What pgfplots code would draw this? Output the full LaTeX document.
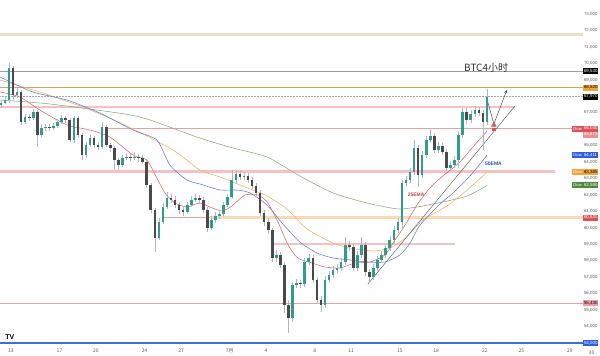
\documentclass[border=0pt]{standalone}
\usepackage{pgfplots}
\usepackage{pgfplotstable}
\pgfplotsset{compat=1.18}
\usepackage{fontspec}
\setmainfont{Liberation Sans}
\newfontfamily\cjk{Noto Sans CJK SC}
\definecolor{upc}{HTML}{2E9E8A}
\definecolor{dnc}{HTML}{4A4A4A}
\definecolor{wickc}{HTML}{B4B8BC}
\definecolor{emared}{HTML}{D97070}
\definecolor{emablue}{HTML}{6F80D8}
\definecolor{emaorange}{HTML}{F2B46C}
\definecolor{emaolive}{HTML}{93AC86}
\definecolor{tanband}{HTML}{EBDDC2}
\definecolor{pinkband}{HTML}{F4C2C2}
\definecolor{peachband}{HTML}{F7D9B5}
\definecolor{redline}{HTML}{EBA0A0}
\definecolor{orangeline}{HTML}{D9A35E}
\definecolor{blueline}{HTML}{3D6FD8}
\definecolor{lblred}{HTML}{E05252}
\definecolor{lblpink}{HTML}{EE8E8E}
\definecolor{lblblue}{HTML}{2F5FE0}
\definecolor{lblorange}{HTML}{F2A23C}
\definecolor{lblgreen}{HTML}{4C8A3C}
\definecolor{axtext}{HTML}{5A5A5A}

\pgfplotstableread{
x o h l c
0 67467 67771 67285 67589
1 67589 67953 67528 67771
2 67771 70021 67589 69717
3 69717 69838 67771 68075
4 68075 68501 67893 68257
5 68257 68379 66251 66433
6 66433 66920 66312 66737
7 66737 66920 66494 66677
8 66677 67224 66555 67041
9 67041 67163 64913 65643
10 65643 66312 65521 66069
11 66069 66312 65886 66129
12 66129 66312 65886 66069
13 66069 66373 65947 66190
14 66190 66616 66069 66433
15 66433 66859 66312 66677
16 66677 66798 66373 66555
17 66555 66677 65217 65339
18 65339 66798 65157 66677
19 66677 66798 65461 65643
20 65643 65765 64123 64427
21 64427 65217 64245 65035
22 65035 65643 64913 65461
23 65461 65583 64853 65035
24 65035 65217 64731 64913
25 64913 66433 64792 66129
26 66129 66251 64913 65035
27 65035 65157 64609 64853
28 64853 64974 63515 64123
29 64123 64245 63515 63819
30 63819 64427 63697 64245
31 64245 64549 64123 64305
32 64305 64488 64063 64245
33 64245 64609 64123 64305
34 64305 64488 64001 64245
35 64245 64427 63880 64001
36 64001 64123 62421 62603
37 62603 62725 60901 61083
38 61083 61205 58529 59381
39 59381 60597 59259 60353
40 60353 61509 60232 61265
41 61265 62178 61144 61813
42 61813 62056 61509 61691
43 61691 61935 61205 61387
44 61387 61569 60841 61083
45 61083 61326 60719 60961
46 60961 61569 60841 61387
47 61387 61935 61265 61691
48 61691 62056 61569 61813
49 61813 61995 61448 61691
50 61691 61873 60901 61083
51 61083 61265 59745 59987
52 59987 60719 59867 60475
53 60475 60961 60293 60719
54 60719 61083 60536 60841
55 60841 61569 60719 61387
56 61387 62056 61265 61873
57 61873 63515 61752 62907
58 62907 63515 62725 63272
59 63272 63454 62907 63089
60 63089 63393 62907 63150
61 63150 63333 62725 62907
62 62907 63089 62360 62542
63 62542 62725 61935 62117
64 62117 62299 60719 60901
65 60901 61083 60110 60353
66 60353 60597 59624 59867
67 59867 59987 57921 58165
68 58165 58651 57921 58347
69 58347 58529 57557 57739
70 57739 57921 54821 55307
71 55307 55611 53605 54517
72 54517 56705 54273 56523
73 56523 56888 56341 56645
74 56645 56827 56341 56584
75 56584 58165 56402 57921
76 57921 58408 57739 58165
77 58165 58347 56645 56827
78 56827 57009 55368 55611
79 55611 55854 54881 55307
80 55307 57070 55125 56827
81 56827 57375 56645 57131
82 57131 57678 56949 57435
83 57435 57800 57253 57557
84 57557 58165 57375 57921
85 57921 59441 57739 58955
86 58955 59198 58590 58833
87 58833 59015 57375 57557
88 57557 58590 57375 58347
89 58347 59441 58165 58955
90 58955 59137 57070 57313
91 57313 57496 56645 57009
92 57009 57800 56827 57557
93 57557 58286 57375 58043
94 58043 58590 57861 58347
95 58347 59015 58165 58773
96 58773 59502 58590 59259
97 59259 60110 59077 59867
98 59867 60597 59685 60353
99 60353 62907 59987 62725
100 62725 63150 62481 62907
101 62907 63637 62725 63393
102 63393 65339 63211 64853
103 64853 65035 62481 63211
104 63211 64670 63029 64427
105 64427 65583 64245 65339
106 65339 66069 65157 65583
107 65583 65765 64549 64731
108 64731 65217 64549 64974
109 64974 65157 64427 64609
110 64609 64792 63454 63637
111 63637 64063 63454 63819
112 63819 64366 63637 64123
113 64123 65886 63637 65643
114 65643 67285 65461 67041
115 67041 67285 66312 66555
116 66555 67163 66373 66920
117 66920 67407 66737 67163
118 67163 67345 66798 66981
119 66981 67163 64731 66433
120 66433 68440 66251 67953
}\candles

\pgfplotstableread{
x p
-0.2 68257
4.7 67953
9.6 67163
16.3 66251
22.0 65947
26.9 65521
32.6 64427
36.0 64123
38.5 63029
40.5 62117
43.0 61509
45.9 61265
49.1 61509
51.6 61265
54.6 61022
57.0 61326
60.2 61995
63.5 61995
65.9 61509
68.4 60353
70.9 58955
73.3 58165
76.8 57861
80.0 57618
83.7 57557
87.4 57861
91.1 57921
94.8 58347
97.3 59259
99.8 60171
102.7 61387
105.9 62421
109.1 63150
113.3 64001
116.5 64913
120.0 65875
}\emaRed

\pgfplotstableread{
x p
-0.2 69169
7.9 68257
16.3 67771
24.4 66981
32.6 65947
38.5 65339
41.7 63819
45.9 62907
49.1 62664
54.1 62299
58.3 62299
61.5 62117
65.7 61387
69.6 60232
73.8 59137
78.0 58469
82.0 58165
86.2 58043
90.4 57921
94.8 57921
98.5 58347
101.0 59077
103.5 60171
108.4 61448
111.6 62117
115.8 63150
120.0 64411
}\emaBlue

\pgfplotstableread{
x p
-0.2 68987
9.6 68257
20.2 67345
30.6 66251
42.5 64731
49.1 63515
54.1 63089
61.5 62360
65.7 61935
70.6 61144
75.6 59928
82.0 59077
86.2 58773
91.9 58590
96.1 58773
99.8 59381
104.2 60475
110.1 61326
115.1 62299
120.0 63385
}\emaOrange

\pgfplotstableread{
x p
-0.2 67771
12.1 67527
30.6 66920
36.8 66555
49.1 65461
57.3 64853
65.7 64305
73.8 63150
82.0 62117
90.4 61509
98.5 61144
106.7 61448
115.1 61935
120.0 62580
}\emaOlive

\begin{document}
\begin{tikzpicture}
\useasboundingbox (0,-11pt) rectangle (600pt,345pt);
\begin{axis}[
  at={(0,0)}, anchor=south west,
  scale only axis, width=583pt, height=345pt,
  xmin=-0.22, xmax=143.7, ymin=52875, ymax=73851,
  clip=false,
  axis line style={draw=none},
  tick style={draw=none},
  yticklabel pos=right,
  scaled y ticks=false,
  /pgf/number format/fixed,
  /pgf/number format/1000 sep={,},
  /pgf/number format/assume math mode=true,
  ytick={54000,55000,56000,57000,58000,59000,60000,61000,62000,63000,64000,65000,67000,69000,70000,71000,72000,73000},
  yticklabel style={font=\fontsize{4.4}{5}\selectfont, text=axtext, inner xsep=0.8pt},
  xtick={2.47,14.47,23.47,35.47,44.47,56.47,65.47,77.47,86.47,98.47,107.47,119.47,128.47,140.47},
  xticklabels={13,17,20,24,27,7月,4,8,11,15,18,22,25,29},
  xticklabel style={font=\cjk\fontsize{5}{6}\selectfont, text=axtext, yshift=-0.5pt},
]
% horizontal levels
\addplot[tanband, line width=3pt] coordinates {(-0.22,71723) (143.7,71723)};
\addplot[gray!75, line width=0.8pt] coordinates {(-0.22,69530) (143.7,69530)};
\addplot[orangeline, line width=1pt] coordinates {(-0.22,68520) (143.7,68520)};
\addplot[gray!70, line width=0.5pt, densely dotted] coordinates {(-0.22,67970) (143.7,67970)};
\addplot[pinkband, line width=2.5pt] coordinates {(-0.22,67345) (126.9,67345)};
\addplot[redline, line width=1.3pt] coordinates {(26.2,66030) (143.7,66030)};
\addplot[pinkband, line width=2.5pt] coordinates {(-0.22,63411) (136.8,63411)};
\addplot[redline, line width=0.7pt] coordinates {(40,60639) (51.6,60639)};
\addplot[peachband, line width=3pt] coordinates {(51.6,60620) (143.7,60620)};
\addplot[pinkband, line width=2.5pt] coordinates {(66.9,59015) (112.1,59015)};
\addplot[redline, line width=0.8pt] coordinates {(-0.22,55430) (143.7,55430)};
\addplot[blueline, line width=1.2pt] coordinates {(-0.22,53000) (143.7,53000)};
% EMAs
\addplot[emaolive, line width=0.6pt, smooth, tension=0.4] table[x=x,y=p] {\emaOlive};
\addplot[emaorange, line width=0.6pt, smooth, tension=0.4] table[x=x,y=p] {\emaOrange};
\addplot[emablue, line width=0.6pt, smooth, tension=0.4] table[x=x,y=p] {\emaBlue};
\addplot[emared, line width=0.6pt, smooth, tension=0.4] table[x=x,y=p] {\emaRed};
% trend line and projection
\addplot[gray!80!black, line width=0.5pt] coordinates {(90.6,56584) (126.9,67406)};
\addplot[gray!60!black, line width=0.5pt, -{stealth}] coordinates {(120.0,67832) (121.7,66312) (124.9,68379)};
% candles: wicks
\addplot[draw=none, mark=none, restrict expr to domain={\thisrow{c}-\thisrow{o}}{0:100000},
  error bars/.cd, y dir=minus, y explicit, error mark=none, error bar style={draw=wickc, line width=0.5pt}]
  table[x=x, y=h, y error minus expr=\thisrow{h}-\thisrow{l}] {\candles};
\addplot[draw=none, mark=none, restrict expr to domain={\thisrow{c}-\thisrow{o}}{-100000:-0.5},
  error bars/.cd, y dir=minus, y explicit, error mark=none, error bar style={draw=wickc, line width=0.5pt}]
  table[x=x, y=h, y error minus expr=\thisrow{h}-\thisrow{l}] {\candles};
% candles: bodies
\addplot[draw=none, mark=none, restrict expr to domain={\thisrow{c}-\thisrow{o}}{0:100000},
  error bars/.cd, y dir=minus, y explicit, error mark=none, error bar style={draw=upc, line width=2.6pt}]
  table[x=x, y=c, y error minus expr={max(\thisrow{c}-\thisrow{o},40)}] {\candles};
\addplot[draw=none, mark=none, restrict expr to domain={\thisrow{c}-\thisrow{o}}{-100000:-0.5},
  error bars/.cd, y dir=minus, y explicit, error mark=none, error bar style={draw=dnc, line width=2.6pt}]
  table[x=x, y=o, y error minus expr={\thisrow{o}-\thisrow{c}}] {\candles};
% red arrow
\addplot[only marks, mark=square*, mark size=1.2pt, color=lblred] coordinates {(121.7,65990)};
\addplot[only marks, mark=triangle*, mark size=2.8pt, color=lblred] coordinates {(121.7,66250)};
% texts
\node[font=\cjk\fontsize{10}{12}\selectfont, text=black!80] at (axis cs:119.8,69717) {BTC4小时};
\node[font=\bfseries\fontsize{5}{6}\selectfont, text=lblred!85!black] at (axis cs:102.5,61995) {25EMA};
\node[font=\bfseries\fontsize{5}{6}\selectfont, text=lblblue!80!black] at (axis cs:121.6,63880) {50EMA};
\node[font=\bfseries\fontsize{7}{8}\selectfont, text=black] at (axis cs:2.2,53330) {TV};
\node[font=\cjk\fontsize{5}{6}\selectfont, text=axtext, anchor=north, yshift=-2.2pt] at (axis cs:145.8,52875) {30};
% right labels
\tikzset{lbl/.style={font=\fontsize{4.4}{5}\selectfont, inner xsep=0.8pt, inner ysep=1pt, anchor=west, minimum height=6pt}}
\tikzset{dow/.style={font=\fontsize{4.2}{5}\selectfont, inner xsep=1pt, inner ysep=1pt, anchor=east, minimum height=6pt, text=white}}
\node[lbl, fill=black, text=white] at (axis cs:143.7,69530) {69,530};
\node[lbl, fill=lblorange, text=black] at (axis cs:143.7,68520) {68,520};
\node[lbl, fill=black, text=white] at (axis cs:143.7,67970) {67,970};
\node[dow, fill=lblred] at (axis cs:143.7,66030) {Dow};
\node[lbl, fill=lblred, text=white] at (axis cs:143.7,66030) {66,030};
\node[lbl, fill=lblpink, text=white] at (axis cs:143.7,65660) {65,875};
\node[dow, fill=lblblue] at (axis cs:143.7,64411) {Dow};
\node[lbl, fill=lblblue, text=white] at (axis cs:143.7,64411) {64,411};
\node[dow, fill=lblorange] at (axis cs:143.7,63385) {Dow};
\node[lbl, fill=lblorange, text=black] at (axis cs:143.7,63385) {63,385};
\node[dow, fill=lblgreen] at (axis cs:143.7,62580) {Dow};
\node[lbl, fill=lblgreen, text=white] at (axis cs:143.7,62580) {62,580};
\node[lbl, fill=lblred, text=white] at (axis cs:143.7,60620) {60,620};
\node[lbl, fill=pinkband!80!red, text=black] at (axis cs:143.7,55430) {55,430};
\node[lbl, fill=lblblue, text=white] at (axis cs:143.7,53000) {53,000};
\end{axis}
\end{tikzpicture}
\end{document}
